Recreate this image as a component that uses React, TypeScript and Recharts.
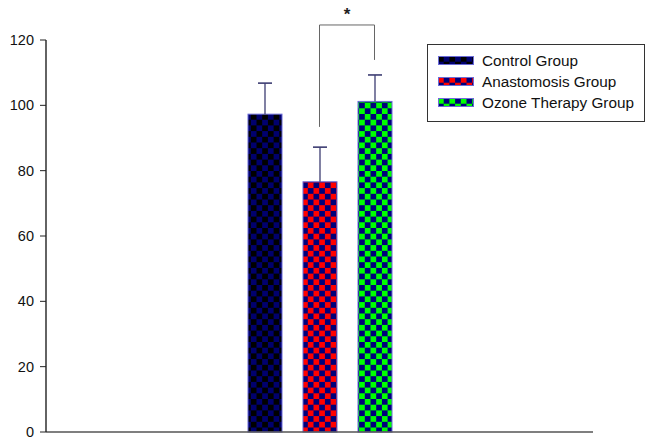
import { Bar, BarChart, Legend, ReferenceLine, XAxis, YAxis } from 'recharts'

// groups and values
const groups = ['Control Group', 'Anastomosis Group', 'Ozone Therapy Group']
const seriesKeys = ['control', 'anastomosis', 'ozone']
const means = [97.3, 76.6, 101.2]
const sds = [9.5, 10.6, 8.1]
const yTicks = [0, 20, 40, 60, 80, 100, 120]

// significance bracket between anastomosis and ozone (in data units)
const bracketTop = 124.6
const bracketLeftEnd = 93.4
const bracketRightEnd = 113.9

const FONT = '"Liberation Sans", Arial, sans-serif'
const SQ = 5.7

const checkerColors: Record<string, [string, string]> = {
  control: ['#000000', '#00006e'],
  anastomosis: ['#ff0000', '#00007a'],
  ozone: ['#00ff00', '#00007a'],
}

// one row per group; each series only has a value in its own row (stacked)
const data = groups.map((g, i) => ({
  group: g,
  [seriesKeys[i]]: means[i],
  [`${seriesKeys[i]}Sd`]: sds[i],
}))

function CheckerBar(props: any) {
  const { x, y, width, height, payload, sKey } = props
  if (!height || height <= 0) return null
  const value = payload[sKey]
  const sd = payload[`${sKey}Sd`]
  const pxPerUnit = height / value
  const cx = x + width / 2
  const top = y - sd * pxPerUnit
  return (
    <g>
      <rect
        x={x}
        y={y}
        width={width}
        height={height}
        fill={`url(#chk-${sKey})`}
        stroke="#6b6bd6"
        strokeWidth={1}
      />
      <line x1={cx} x2={cx} y1={y} y2={top} stroke="#3d3d72" strokeWidth={1.3} />
      <line x1={cx - 7} x2={cx + 7} y1={top} y2={top} stroke="#3d3d72" strokeWidth={1.6} />
    </g>
  )
}

function LegendBox(props: any) {
  const payload = [...(props.payload || [])].sort(
    (a: any, b: any) => seriesKeys.indexOf(a.dataKey) - seriesKeys.indexOf(b.dataKey),
  )
  return (
    <div
      style={{
        boxSizing: 'border-box',
        width: 218,
        height: 78,
        border: '1px solid #333',
        background: '#fff',
        padding: '5px 0 0 10px',
        fontFamily: FONT,
        fontSize: 15.3,
        color: '#111',
      }}
    >
      {payload.map((e: any) => (
        <div key={e.value} style={{ display: 'flex', alignItems: 'center', height: 21 }}>
          <svg width={36} height={9} style={{ marginRight: 8, display: 'block' }}>
            <rect
              x={0.5}
              y={0.5}
              width={35}
              height={8}
              fill={`url(#chk-${e.dataKey})`}
              stroke="#6b6bd6"
            />
          </svg>
          <span>{e.value}</span>
        </div>
      ))}
    </div>
  )
}

export default function App() {
  return (
    <div style={{ position: 'absolute', left: 0, top: 0, width: 646, height: 439, background: '#fff' }}>
      <svg width={0} height={0} style={{ position: 'absolute' }}>
        <defs>
          {seriesKeys.map((k) => (
            <pattern
              key={k}
              id={`chk-${k}`}
              patternUnits="userSpaceOnUse"
              width={SQ * 2}
              height={SQ * 2}
            >
              <rect width={SQ * 2} height={SQ * 2} fill={checkerColors[k][1]} />
              <rect width={SQ} height={SQ} fill={checkerColors[k][0]} />
              <rect x={SQ} y={SQ} width={SQ} height={SQ} fill={checkerColors[k][0]} />
            </pattern>
          ))}
        </defs>
      </svg>
      <BarChart
        width={646}
        height={439}
        data={data}
        barSize={34}
        margin={{ top: 40, right: 53, bottom: 5, left: 0 }}
      >
        <XAxis
          dataKey="group"
          height={2}
          tick={false}
          tickLine={false}
          padding={{ left: 191, right: 191 }}
          axisLine={{ stroke: '#555', strokeWidth: 1.5 }}
        />
        <YAxis
          domain={[0, 120]}
          ticks={yTicks}
          interval={0}
          width={46}
          tickSize={6}
          tickMargin={6}
          axisLine={{ stroke: '#222', strokeWidth: 1.4 }}
          tickLine={{ stroke: '#222' }}
          tick={{ fill: '#111', fontSize: 14.5, fontFamily: FONT }}
        />
        <Legend
          layout="vertical"
          align="center"
          verticalAlign="middle"
          wrapperStyle={{ left: 427, top: 44, width: 218 }}
          content={LegendBox}
        />
        {seriesKeys.map((k, i) => (
          <Bar
            key={k}
            dataKey={k}
            name={groups[i]}
            stackId="a"
            fill={checkerColors[k][1]}
            isAnimationActive={false}
            shape={(p: any) => <CheckerBar {...p} sKey={k} />}
          />
        ))}
        <ReferenceLine
          ifOverflow="visible"
          stroke="#666"
          segment={[
            { x: groups[1], y: bracketLeftEnd },
            { x: groups[1], y: bracketTop },
          ]}
        />
        <ReferenceLine
          ifOverflow="visible"
          stroke="#666"
          segment={[
            { x: groups[1], y: bracketTop },
            { x: groups[2], y: bracketTop },
          ]}
          label={{
            value: '*',
            position: 'top',
            fill: '#222',
            fontSize: 17,
            fontWeight: 'bold',
            fontFamily: FONT,
          }}
        />
        <ReferenceLine
          ifOverflow="visible"
          stroke="#666"
          segment={[
            { x: groups[2], y: bracketTop },
            { x: groups[2], y: bracketRightEnd },
          ]}
        />
      </BarChart>
    </div>
  )
}
